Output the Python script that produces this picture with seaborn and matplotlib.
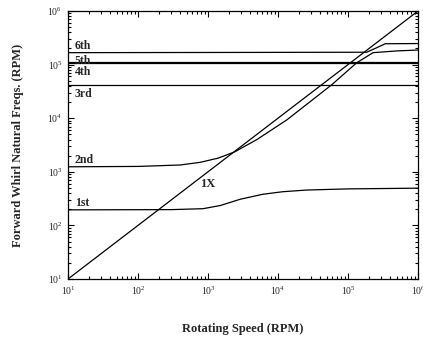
import numpy as np
import pandas as pd
import matplotlib
matplotlib.use("Agg")
import matplotlib.pyplot as plt
import seaborn as sns
from matplotlib.ticker import LogLocator, NullFormatter

# ---- data ----
one_x_speed = [10, 1e6]
one_x_freq = [10, 1e6]

mode1_speed = [10, 300, 850, 1500, 2870, 6000, 11700, 25900, 1e5, 1e6]
mode1_freq = [195, 197, 205, 235, 307, 380, 425, 457, 480, 495]

mode2_speed = [10, 100, 400, 770, 1400, 2430, 5000, 13300, 58500, 1.33e5, 2.28e5, 5e5, 1e6]
mode2_freq = [1240, 1260, 1340, 1500, 1800, 2370, 4000, 9250, 42000, 1.08e5, 1.67e5, 1.8e5, 1.87e5]

mode3_speed = [10, 1e6]
mode3_freq = [4.2e4, 4.2e4]

mode4_speed = [10, 1e6]
mode4_freq = [1.05e5, 1.05e5]

mode5_speed = [10, 1e6]
mode5_freq = [1.13e5, 1.13e5]

mode6_speed = [10, 1.85e5, 2.54e5, 3.4e5, 1e6]
mode6_freq = [1.67e5, 1.70e5, 2.05e5, 2.45e5, 2.47e5]

label_names = ["6th", "5th", "4th", "3rd", "2nd", "1st"]
label_y = [1.67e5, 1.13e5, 1.05e5, 4.2e4, 1240, 195]
label_pos = ["above", "on", "below", "below", "above", "above"]

# ---- style ----
sns.set_style("ticks")
plt.rcParams["font.family"] = ["Liberation Serif", "DejaVu Serif"]
plt.rcParams["mathtext.fontset"] = "stix"

fig = plt.figure(figsize=(4.23, 3.38), dpi=100)
ax = fig.add_axes([68 / 423, 1 - 279 / 338, (418 - 68) / 423, (279 - 11) / 338])

series = [
    (one_x_speed, one_x_freq),
    (mode1_speed, mode1_freq),
    (mode2_speed, mode2_freq),
    (mode3_speed, mode3_freq),
    (mode4_speed, mode4_freq),
    (mode5_speed, mode5_freq),
    (mode6_speed, mode6_freq),
]
for sx, sy in series:
    df = pd.DataFrame({"speed": sx, "freq": sy})
    sns.lineplot(data=df, x="speed", y="freq", ax=ax, color="black",
                 linewidth=0.9, sort=False, estimator=None)

ax.set_xscale("log")
ax.set_yscale("log")
ax.set_xlim(10, 1e6)
ax.set_ylim(10, 1e6)

ax.xaxis.set_major_locator(LogLocator(base=10, numticks=10))
ax.yaxis.set_major_locator(LogLocator(base=10, numticks=10))
ax.xaxis.set_minor_locator(LogLocator(base=10, subs=np.arange(2, 10), numticks=100))
ax.yaxis.set_minor_locator(LogLocator(base=10, subs=np.arange(2, 10), numticks=100))
ax.xaxis.set_minor_formatter(NullFormatter())
ax.yaxis.set_minor_formatter(NullFormatter())

ax.tick_params(which="both", direction="in", top=True, right=True, width=0.8, color="black")
ax.tick_params(which="major", length=4, labelsize=7, pad=4)
ax.tick_params(which="minor", length=2)
for s in ax.spines.values():
    s.set_linewidth(0.9)
    s.set_color("black")

ax.set_xlabel("Rotating Speed (RPM)", fontsize=9, fontweight="bold", labelpad=19)
ax.set_ylabel("Forward Whirl Natural Freqs. (RPM)", fontsize=9, fontweight="bold", labelpad=17)

for name, yv, pos in zip(label_names, label_y, label_pos):
    if pos == "above":
        off, va = 0.5, "bottom"
    elif pos == "below":
        off, va = -2, "top"
    else:
        off, va = 0.5, "center"
    ax.annotate(name, xy=(12.5, yv), xytext=(0, off), textcoords="offset points",
                ha="left", va=va, fontsize=8.5, fontweight="bold")

ax.text(1000, 590, "1X", ha="center", va="center", fontsize=9, fontweight="bold")

fig.savefig("out.png", dpi=100)
